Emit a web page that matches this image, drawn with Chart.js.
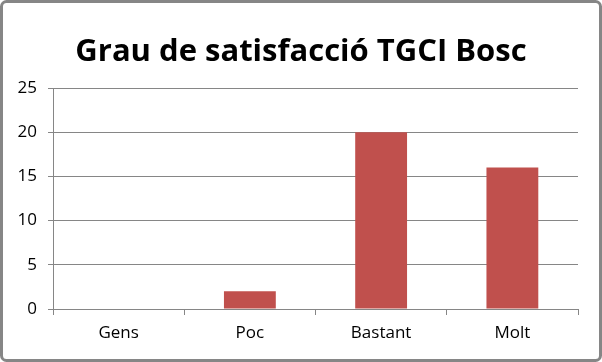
<!DOCTYPE html>
<html>
<head>
<meta charset="utf-8">
<script src="https://cdn.jsdelivr.net/npm/chart.js@4.4.1/dist/chart.umd.min.js"></script>
<style>
  html, body { margin: 0; padding: 0; background: #ffffff; }
  #wrap { width: 602px; height: 362px; position: relative; }
</style>
</head>
<body>
<div id="wrap"><canvas id="grafica" width="602" height="362"></canvas></div>
<script>
// dades del grafic
const titol = "Grau de satisfacció TGCI Bosc";
const categories = ["Gens", "Poc", "Bastant", "Molt"];
const valors = [0, 2, 20, 16];
const yMax = 25;
const yStep = 5;

const gris = "#868686";
const vermell = "#C0504D";
const fontBase = "'Open Sans', 'Noto Sans', sans-serif";

// marc arrodonit i titol centrat sobre tot el llenc
const marc = {
    id: "marc",
    afterDraw(chart) {
        const ctx = chart.ctx;
        ctx.save();
        ctx.strokeStyle = gris;
        ctx.lineWidth = 3;
        ctx.beginPath();
        ctx.roundRect(1.5, 1.5, chart.width - 3, chart.height - 3, 5);
        ctx.stroke();

        ctx.fillStyle = "#000000";
        ctx.font = "bold 31px " + fontBase;
        ctx.textAlign = "center";
        ctx.textBaseline = "alphabetic";
        ctx.fillText(titol, chart.width / 2, 61);
        ctx.restore();
    }
};

const ctxGrafica = document.getElementById("grafica").getContext("2d");
const grafic = new Chart(ctxGrafica, {
    type: "bar",
    data: {
        labels: categories,
        datasets: [
            {
                label: titol,
                data: valors,
                backgroundColor: vermell,
                borderWidth: 0,
                categoryPercentage: 1,
                barPercentage: 0.395
            }
        ]
    },
    options: {
        responsive: false,
        animation: false,
        layout: {
            padding: { left: 0, right: 24, top: 88, bottom: 0 }
        },
        plugins: {
            legend: { display: false },
            tooltip: { enabled: false },
            title: { display: false }
        },
        scales: {
            x: {
                offset: true,
                grid: {
                    offset: true,
                    drawOnChartArea: false,
                    drawTicks: true,
                    tickLength: 6,
                    color: gris
                },
                border: { color: gris, width: 1 },
                ticks: {
                    color: "#000000",
                    padding: 8,
                    font: { family: fontBase, size: 17 }
                },
                afterFit(scale) { scale.height = 53; }
            },
            y: {
                min: 0,
                max: yMax,
                grid: {
                    color: gris,
                    tickLength: 5
                },
                border: { color: gris, width: 1 },
                ticks: {
                    stepSize: yStep,
                    color: "#000000",
                    padding: 11,
                    font: { family: fontBase, size: 17 }
                },
                afterFit(scale) { scale.width = 53; }
            }
        }
    },
    plugins: [marc]
});
</script>
</body>
</html>
